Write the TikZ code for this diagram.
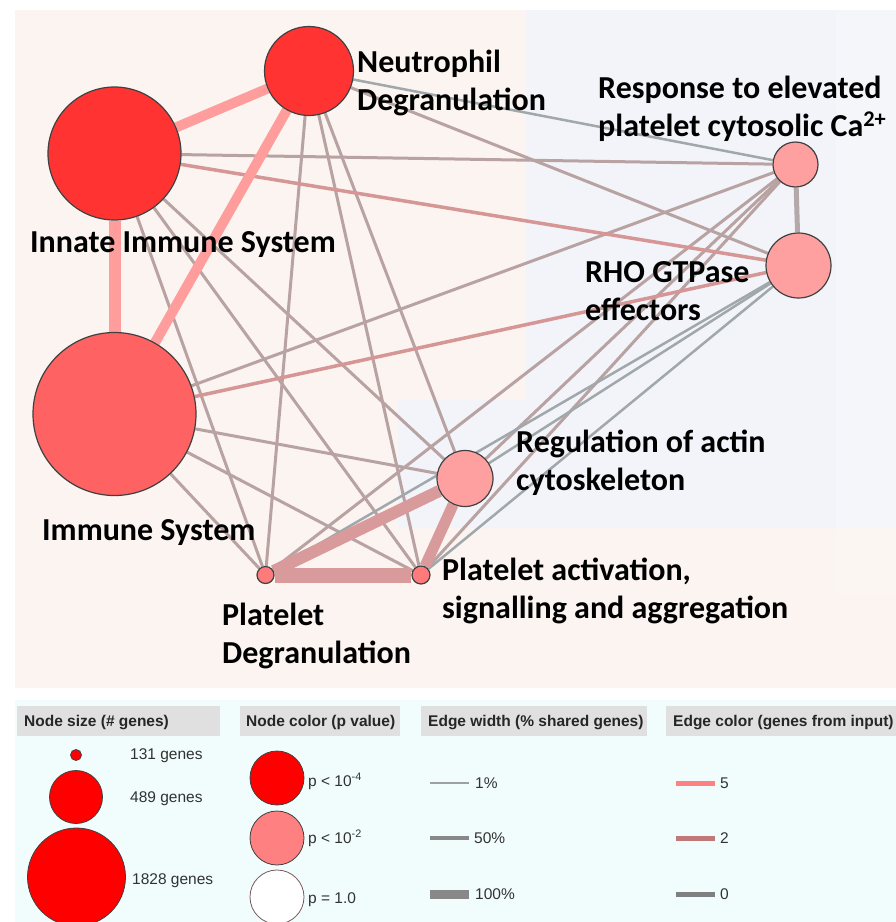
\documentclass[tikz,border=0pt]{standalone}
\usepackage{fontspec}
\setmainfont{Carlito}
\newfontfamily\legfont{Liberation Sans}
\pgfdeclarelayer{bg}
\pgfdeclarelayer{edges}
\pgfsetlayers{bg,edges,main}
\definecolor{peach}{RGB}{251,244,240}
\definecolor{bluebg}{RGB}{242,244,249}
\definecolor{stripbg}{RGB}{245,246,250}
\definecolor{strippeach}{RGB}{252,246,243}
\definecolor{legbg}{RGB}{241,252,252}
\definecolor{hdr}{RGB}{224,224,224}
\definecolor{nred}{RGB}{255,52,50}
\definecolor{nis}{RGB}{255,98,98}
\definecolor{npink}{RGB}{255,160,160}
\definecolor{nsal}{RGB}{255,122,122}
\definecolor{outl}{RGB}{64,64,64}
\definecolor{efive}{RGB}{255,157,157}
\definecolor{etwo}{RGB}{214,150,150}
\definecolor{ethick}{RGB}{216,154,154}
\definecolor{eone}{RGB}{185,162,162}
\definecolor{ezero}{RGB}{160,168,172}
\definecolor{ehr}{RGB}{180,168,170}
\definecolor{legtxt}{RGB}{50,50,50}
\tikzset{
  gnode/.style={circle, draw=outl, line width=1.2pt, inner sep=0pt},
  glabel/.style={font=\fontsize{32}{38}\selectfont\bfseries, align=left, anchor=base west, inner sep=0pt},
  efat/.style={draw=efive},
  emid/.style={draw=ethick},
  ered/.style={draw=etwo, line width=3.5pt},
  emauve/.style={draw=eone, line width=3pt},
  egray/.style={draw=ezero, line width=2.5pt},
  hdrbox/.style={fill=hdr, draw=none},
  hdrtext/.style={font=\legfont\fontsize{15.5}{18}\selectfont\bfseries, anchor=base west, inner sep=0pt, text=black!85},
  legtext/.style={font=\legfont\fontsize{15.5}{18}\selectfont, anchor=base west, inner sep=0pt, text=legtxt},
  lnode/.style={circle, draw=outl, line width=0.8pt, inner sep=0pt}
}
\begin{document}
\begin{tikzpicture}[x=1pt, y=-1pt]
\useasboundingbox (0,0) rectangle (896,922);
\begin{pgfonlayer}{bg}
  \fill[white] (0,0) rectangle (896,922);
  \fill[peach] (15,10) rectangle (896,688);
  \fill[bluebg] (526,10) -- (836,10) -- (836,528) -- (398,528) -- (398,400) -- (526,400) -- cycle;
  \fill[stripbg] (836,10) rectangle (896,528);
  \fill[strippeach] (836,528) rectangle (896,595);
  \fill[legbg] (15,700) rectangle (896,922);
\end{pgfonlayer}

% graph nodes
\node[gnode, fill=nred, minimum size=133pt] (I) at (114.5,153.5) {};
\node[gnode, fill=nred, minimum size=89pt] (N) at (309,71) {};
\node[gnode, fill=nis, minimum size=163pt] (IS) at (114.5,414) {};
\node[gnode, fill=npink, minimum size=45pt] (R) at (795.5,164.5) {};
\node[gnode, fill=npink, minimum size=65pt] (H) at (798.5,265.5) {};
\node[gnode, fill=npink, minimum size=56pt] (A) at (465,478.5) {};
\node[gnode, fill=nsal, minimum size=17pt] (PD) at (265.5,575) {};
\node[gnode, fill=nsal, minimum size=18pt] (PA) at (421,575) {};

\begin{pgfonlayer}{edges}
  % thin edges
  \draw[emauve] (I) -- (R);
  \draw[emauve] (I) -- (A);
  \draw[emauve] (I) -- (PD);
  \draw[emauve] (I) -- (PA);
  \draw[emauve] (N) -- (H);
  \draw[emauve] (N) -- (A);
  \draw[emauve] (N) -- (PD);
  \draw[emauve] (N) -- (PA);
  \draw[emauve] (IS) -- (R);
  \draw[emauve] (IS) -- (A);
  \draw[emauve] (IS) -- (PD);
  \draw[emauve] (IS) -- (PA);
  \draw[emauve] (R) -- (A);
  \draw[emauve] (R) -- (PD);
  \draw[emauve] (R) -- (PA);
  \draw[egray] (N) -- (R);
  \draw[egray] (H) -- (A);
  \draw[egray] (H) -- (PD);
  \draw[egray] (H) -- (PA);
  \draw[ered] (I) -- (H);
  \draw[ered] (IS) -- (H);
  \draw[draw=ehr, line width=5pt] (R) -- (H);
  % thick edges
  \draw[efat, line width=10pt] (I) -- (N);
  \draw[efat, line width=12pt] (I) -- (IS);
  \draw[efat, line width=10pt] (IS) -- (N);
  \draw[emid, line width=15pt] (PD) -- (PA);
  \draw[emid, line width=12pt] (PD) -- (A);
  \draw[emid, line width=11pt] (PA) -- (A);
\end{pgfonlayer}

% labels (anchor = baseline of the last line)
\node[glabel] (lN) at (357,110) {Neutrophil\\Degranulation};
\node[glabel] (lR) at (598,136) {Response to elevated\\platelet cytosolic Ca\textsuperscript{2+}};
\node[glabel] (lI) at (30,252) {Innate Immune System};
\node[glabel] (lH) at (585,320) {RHO GTPase\\effectors};
\node[glabel] (lIS) at (42,540) {Immune System};
\node[glabel] (lA) at (516,490) {Regulation of actin\\cytoskeleton};
\node[glabel] (lPA) at (442,618) {Platelet activation,\\signalling and aggregation};
\node[glabel] (lPD) at (222,663) {Platelet\\Degranulation};

% legend
\begin{scope}
\clip (15,700) rectangle (896,922);
\fill[hdrbox] (17,706) rectangle (220,736);
\fill[hdrbox] (240,706) rectangle (400,736);
\fill[hdrbox] (421,706) rectangle (647,736);
\fill[hdrbox] (666,706) rectangle (896,736);
\node[hdrtext] (h1) at (24,726) {Node size (\# genes)};
\node[hdrtext] (h2) at (246,726) {Node color (p value)};
\node[hdrtext] (h3) at (428,726) {Edge width (\% shared genes)};
\node[hdrtext] (h4) at (673,726) {Edge color (genes from input)};

\node[lnode, fill=red, minimum size=11pt] (s1) at (76,755) {};
\node[lnode, fill=red, minimum size=53pt] (s2) at (76,797) {};
\node[lnode, fill=red, minimum size=98pt] (s3) at (76.5,877) {};
\node[legtext] (t1) at (130,759) {131 genes};
\node[legtext] (t2) at (130,802) {489 genes};
\node[legtext] (t3) at (132,884) {1828 genes};

\node[lnode, fill=red, minimum size=54pt] (c1) at (277,778) {};
\node[lnode, fill={rgb,255:red,255;green,128;blue,128}, minimum size=54pt] (c2) at (277,838) {};
\node[lnode, fill=white, draw={rgb,255:red,122;green,90;blue,90}, minimum size=54pt] (c3) at (277,897) {};
\node[legtext] (p1) at (308,786) {p < 10\textsuperscript{-4}};
\node[legtext] (p2) at (308,843) {p < 10\textsuperscript{-2}};
\node[legtext] (p3) at (308,903) {p = 1.0};

\draw[draw={rgb,255:red,160;green,160;blue,160}, line width=1.5pt] (430,783) -- (469,783);
\draw[draw={rgb,255:red,136;green,136;blue,136}, line width=4pt] (430,838) -- (469,838);
\draw[draw={rgb,255:red,136;green,136;blue,136}, line width=9pt] (430,894) -- (469,894);
\node[legtext] (w1) at (475,788) {1\%};
\node[legtext] (w2) at (474,843) {50\%};
\node[legtext] (w3) at (475,899) {100\%};

\draw[draw={rgb,255:red,255;green,128;blue,128}, line width=5pt] (676,783) -- (715,783);
\draw[draw={rgb,255:red,192;green,120;blue,120}, line width=5pt] (676,838) -- (715,838);
\draw[draw={rgb,255:red,128;green,128;blue,128}, line width=5pt] (676,894) -- (715,894);
\node[legtext] (k1) at (720,788) {5};
\node[legtext] (k2) at (720,843) {2};
\node[legtext] (k3) at (720,899) {0};
\end{scope}
\end{tikzpicture}
\end{document}
